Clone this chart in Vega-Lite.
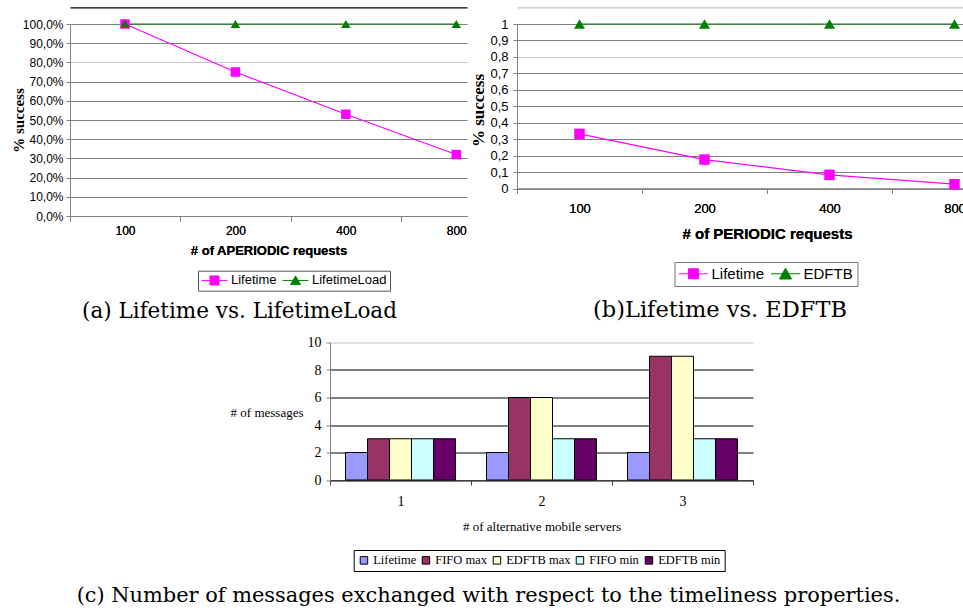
{
  "$schema": "https://vega.github.io/schema/vega-lite/v6.json",
  "background": "white",
  "padding": {"left": 11, "top": 7, "right": 0, "bottom": 0},
  "autosize": {"type": "pad"},
  "datasets": {
    "a": [
      {"req": "100", "series": "Lifetime", "success": 1.0},
      {"req": "200", "series": "Lifetime", "success": 0.75},
      {"req": "400", "series": "Lifetime", "success": 0.53},
      {"req": "800", "series": "Lifetime", "success": 0.32},
      {"req": "100", "series": "LifetimeLoad", "success": 1.0},
      {"req": "200", "series": "LifetimeLoad", "success": 1.0},
      {"req": "400", "series": "LifetimeLoad", "success": 1.0},
      {"req": "800", "series": "LifetimeLoad", "success": 1.0}
    ],
    "b": [
      {"req": "100", "series": "Lifetime", "success": 0.332},
      {"req": "200", "series": "Lifetime", "success": 0.176},
      {"req": "400", "series": "Lifetime", "success": 0.083},
      {"req": "800", "series": "Lifetime", "success": 0.026},
      {"req": "100", "series": "EDFTB", "success": 1.0},
      {"req": "200", "series": "EDFTB", "success": 1.0},
      {"req": "400", "series": "EDFTB", "success": 1.0},
      {"req": "800", "series": "EDFTB", "success": 1.0}
    ],
    "c": [
      {"servers": "1", "series": "Lifetime", "messages": 2},
      {"servers": "1", "series": "FIFO max", "messages": 3},
      {"servers": "1", "series": "EDFTB max", "messages": 3},
      {"servers": "1", "series": "FIFO min", "messages": 3},
      {"servers": "1", "series": "EDFTB min", "messages": 3},
      {"servers": "2", "series": "Lifetime", "messages": 2},
      {"servers": "2", "series": "FIFO max", "messages": 6},
      {"servers": "2", "series": "EDFTB max", "messages": 6},
      {"servers": "2", "series": "FIFO min", "messages": 3},
      {"servers": "2", "series": "EDFTB min", "messages": 3},
      {"servers": "3", "series": "Lifetime", "messages": 2},
      {"servers": "3", "series": "FIFO max", "messages": 9},
      {"servers": "3", "series": "EDFTB max", "messages": 9},
      {"servers": "3", "series": "FIFO min", "messages": 3},
      {"servers": "3", "series": "EDFTB min", "messages": 3}
    ]
  },
  "columns": 2,
  "spacing": {"row": 126.5, "column": 50},
  "align": "each",
  "bounds": "flush",
  "resolve": {
    "scale": {"color": "independent", "shape": "independent", "x": "independent", "y": "independent"},
    "legend": {"color": "independent", "shape": "independent"}
  },
  "concat": [
    {
      "width": 397,
      "height": 192,
      "data": {"name": "a"},
      "title": {"text": "(a) Lifetime vs. LifetimeLoad", "orient": "bottom", "anchor": "middle", "frame": "group", "dx": -29, "offset": 10, "font": "DejaVu Serif", "fontSize": 21.5, "fontWeight": "normal", "color": "#000"},
      "resolve": {"axis": {"x": "independent"}},
      "encoding": {
        "x": {
          "field": "req", "type": "nominal", "sort": null,
          "scale": {"type": "point", "padding": 0.2975, "align": 0.837},
          "axis": {"tickOffset": -55.2, "labelOffset": 55.2, "labelAngle": 0, "labelFont": "Liberation Sans", "labelFontSize": 12, "labelPadding": 4, "tickSize": 5, "tickColor": "#808080", "domainColor": "#808080", "grid": false,
                   "title": "# of APERIODIC requests", "titleFont": "Liberation Sans", "titleFontSize": 13, "titleFontWeight": "bold", "titleY": 34, "titleBaseline": "middle"}
        },
        "y": {
          "field": "success", "type": "quantitative",
          "scale": {"domain": [0, 1], "nice": false},
          "axis": {"values": [0, 0.1, 0.2, 0.3, 0.4, 0.5, 0.6, 0.7, 0.8, 0.9, 1], "format": ".1%", "labelFont": "Liberation Sans", "labelFontSize": 12, "labelPadding": 3, "tickSize": 4, "tickColor": "#808080", "domainColor": "#808080",
                   "gridColor": {"condition": {"test": "abs(datum.value - 0.8) < 0.001", "value": "#c8c8c8"}, "value": "#808080"}, "gridOpacity": 1,
                   "title": "% success", "titleFont": "Liberation Serif", "titleFontSize": 15, "titleFontWeight": "bold", "titleX": -52, "titleY": 96, "titleAlign": "center", "titleBaseline": "middle"}
        },
        "color": {
          "field": "series", "type": "nominal",
          "scale": {"domain": ["Lifetime", "LifetimeLoad"], "range": ["#ff00ff", "#008000"]},
          "legend": {
            "orient": "none", "legendX": 128, "legendY": 246.7, "direction": "horizontal", "title": null,
            "labelFont": "Liberation Sans", "labelFontSize": 13, "labelColor": "#000", "symbolSize": 144, "labelOffset": 17, "columnPadding": 3, "padding": 3,
            "strokeColor": "#555", "fillColor": "#fff",
            "encode": {"symbols": {"update": {
              "shape": {"signal": "datum.value === 'Lifetime' ? 'M-1,0H3.33M0.42,-0.75H1.92V0.75H0.42Z' : 'M-1,0H3.33M1.17,-0.74L2,0.66H0.34Z'"},
              "fill": {"scale": "color", "field": "value"},
              "stroke": {"scale": "color", "field": "value"},
              "strokeWidth": {"value": 1},
              "opacity": {"value": 1}
            }}}
          }
        }
      },
      "layer": [
        {"mark": {"type": "line", "strokeWidth": 1.2},
         "encoding": {"x": {"field": "req", "type": "nominal", "sort": null,
           "axis": {"orient": "top", "offset": 16.7, "domainColor": "#000", "domainWidth": 1.2, "ticks": false, "labels": false, "title": null, "grid": false}}}},
        {"transform": [{"filter": "datum.series === 'Lifetime'"}],
         "mark": {"type": "point", "shape": "square", "filled": true, "opacity": 1, "size": 90}},
        {"transform": [{"filter": "datum.series === 'LifetimeLoad'"}],
         "mark": {"type": "point", "shape": "triangle-up", "filled": true, "opacity": 1, "size": 90}}
      ]
    },
    {
      "width": 500,
      "height": 164.5,
      "data": {"name": "b"},
      "title": {"text": "(b)Lifetime vs. EDFTB", "orient": "bottom", "anchor": "middle", "frame": "group", "dx": -47, "offset": 12.5, "font": "DejaVu Serif", "fontSize": 22.5, "fontWeight": "normal", "color": "#000"},
      "resolve": {"axis": {"x": "independent"}},
      "encoding": {
        "x": {
          "field": "req", "type": "nominal", "sort": null, "bandPosition": 0.5,
          "scale": {"type": "band", "paddingInner": 0, "paddingOuter": 0},
          "axis": {"tickBand": "extent", "labelAngle": 0, "labelFont": "Liberation Sans", "labelFontSize": 13, "labelPadding": 9, "tickSize": 5, "tickColor": "#808080", "domainColor": "#808080", "grid": false,
                   "title": "# of PERIODIC requests", "titleFont": "Liberation Sans", "titleFontSize": 15, "titleFontWeight": "bold", "titleY": 44.5, "titleBaseline": "middle"}
        },
        "y": {
          "field": "success", "type": "quantitative",
          "scale": {"domain": [0, 1], "nice": false},
          "axis": {"values": [0, 0.1, 0.2, 0.3, 0.4, 0.5, 0.6, 0.7, 0.8, 0.9, 1], "format": ".1~f", "labelFont": "Liberation Sans", "labelFontSize": 13, "labelPadding": 5, "tickSize": 4, "tickColor": "#808080", "domainColor": "#808080",
                   "gridColor": {"condition": {"test": "abs(datum.value - 0.8) < 0.001", "value": "#c8c8c8"}, "value": "#808080"}, "gridOpacity": 1,
                   "title": "% success", "titleFont": "Liberation Serif", "titleFontSize": 17, "titleFontWeight": "bold", "titleX": -38.5, "titleY": 86, "titleAlign": "center", "titleBaseline": "middle"}
        },
        "color": {
          "field": "series", "type": "nominal",
          "scale": {"domain": ["Lifetime", "EDFTB"], "range": ["#ff00ff", "#008000"]},
          "legend": {
            "orient": "none", "legendX": 157.5, "legendY": 238, "direction": "horizontal", "title": null,
            "labelFont": "Liberation Sans", "labelFontSize": 15, "labelColor": "#000", "symbolSize": 196, "labelOffset": 18, "columnPadding": 4, "padding": 4,
            "strokeColor": "#777", "fillColor": "#fff",
            "encode": {"symbols": {"update": {
              "shape": {"signal": "datum.value === 'Lifetime' ? 'M-1,0H3.14M0.36,-0.71H1.78V0.71H0.36Z' : 'M-1,0H3.14M1.07,-0.8L1.93,0.75H0.21Z'"},
              "fill": {"scale": "color", "field": "value"},
              "stroke": {"scale": "color", "field": "value"},
              "strokeWidth": {"value": 1},
              "opacity": {"value": 1}
            }}}
          }
        }
      },
      "layer": [
        {"mark": {"type": "line", "strokeWidth": 1.2},
         "encoding": {"x": {"field": "req", "type": "nominal", "sort": null, "bandPosition": 0.5,
           "axis": {"orient": "top", "offset": 16.7, "domainColor": "#c0c0c0", "domainWidth": 1.2, "ticks": false, "labels": false, "title": null, "grid": false}}}},
        {"transform": [{"filter": "datum.series === 'Lifetime'"}],
         "mark": {"type": "point", "shape": "square", "filled": true, "opacity": 1, "size": 110}},
        {"transform": [{"filter": "datum.series === 'EDFTB'"}],
         "mark": {"type": "point", "shape": "triangle-up", "filled": true, "opacity": 1, "size": 120}}
      ]
    },
    {
      "width": 397,
      "height": 137.5,
      "data": {"name": "c"},
      "title": {"text": "(c) Number of messages exchanged with respect to the timeliness properties.", "orient": "bottom", "anchor": "middle", "frame": "group", "dx": 220, "offset": 13, "font": "DejaVu Serif", "fontSize": 20.9, "fontWeight": "normal", "color": "#000"},
      "mark": {"type": "bar", "stroke": "#000", "strokeWidth": 1},
      "encoding": {
        "x": {
          "field": "servers", "type": "nominal", "sort": null,
          "scale": {"paddingInner": 0, "paddingOuter": 0, "range": [260, 683]},
          "axis": {"tickBand": "extent", "labelAngle": 0, "labelFont": "Liberation Serif", "labelFontSize": 14, "labelPadding": 9, "tickSize": 5, "tickColor": "#404040", "domainColor": "#404040", "grid": false,
                   "title": "# of alternative mobile servers", "titleFont": "Liberation Serif", "titleFontSize": 13, "titleFontWeight": "normal", "titleY": 46.7, "titleBaseline": "middle"}
        },
        "xOffset": {
          "field": "series", "type": "nominal",
          "scale": {"domain": ["Lifetime", "FIFO max", "EDFTB max", "FIFO min", "EDFTB min"], "paddingInner": 0, "paddingOuter": 0.705}
        },
        "y": {
          "field": "messages", "type": "quantitative",
          "scale": {"domain": [0, 10], "nice": false},
          "axis": {"offset": -260, "values": [0, 2, 4, 6, 8, 10], "labelFont": "Liberation Serif", "labelFontSize": 14, "labelPadding": 5, "tickSize": 4, "tickColor": "#808080", "domainColor": "#808080",
                   "gridColor": {"condition": {"test": "datum.value === 10", "value": "#c0c0c0"}, "value": "#000"}, "gridOpacity": 1,
                   "title": "# of messages", "titleFont": "Liberation Serif", "titleFontSize": 13, "titleFontWeight": "normal", "titleAngle": 0, "titleX": -27, "titleY": 69.5, "titleAlign": "right", "titleBaseline": "middle"}
        },
        "color": {
          "field": "series", "type": "nominal",
          "scale": {"domain": ["Lifetime", "FIFO max", "EDFTB max", "FIFO min", "EDFTB min"], "range": ["#9999ff", "#993366", "#ffffcc", "#ccffff", "#660066"]},
          "legend": {
            "orient": "none", "legendX": 283.7, "legendY": 207.5, "direction": "horizontal", "title": null,
            "labelFont": "Liberation Serif", "labelFontSize": 12.5, "labelColor": "#000", "symbolType": "square", "symbolSize": 56, "symbolStrokeColor": "#000", "symbolStrokeWidth": 1, "symbolOpacity": 1,
            "labelOffset": 3, "columnPadding": 3, "padding": 4, "strokeColor": "#000", "fillColor": "#fff"
          }
        }
      }
    }
  ],
  "config": {
    "view": {"stroke": null},
    "locale": {"number": {"decimal": ",", "thousands": ".", "grouping": [3], "currency": ["", " €"]}},
    "axis": {"labelColor": "#000", "titleColor": "#000", "gridWidth": 1, "domainWidth": 1, "tickWidth": 1}
  }
}
